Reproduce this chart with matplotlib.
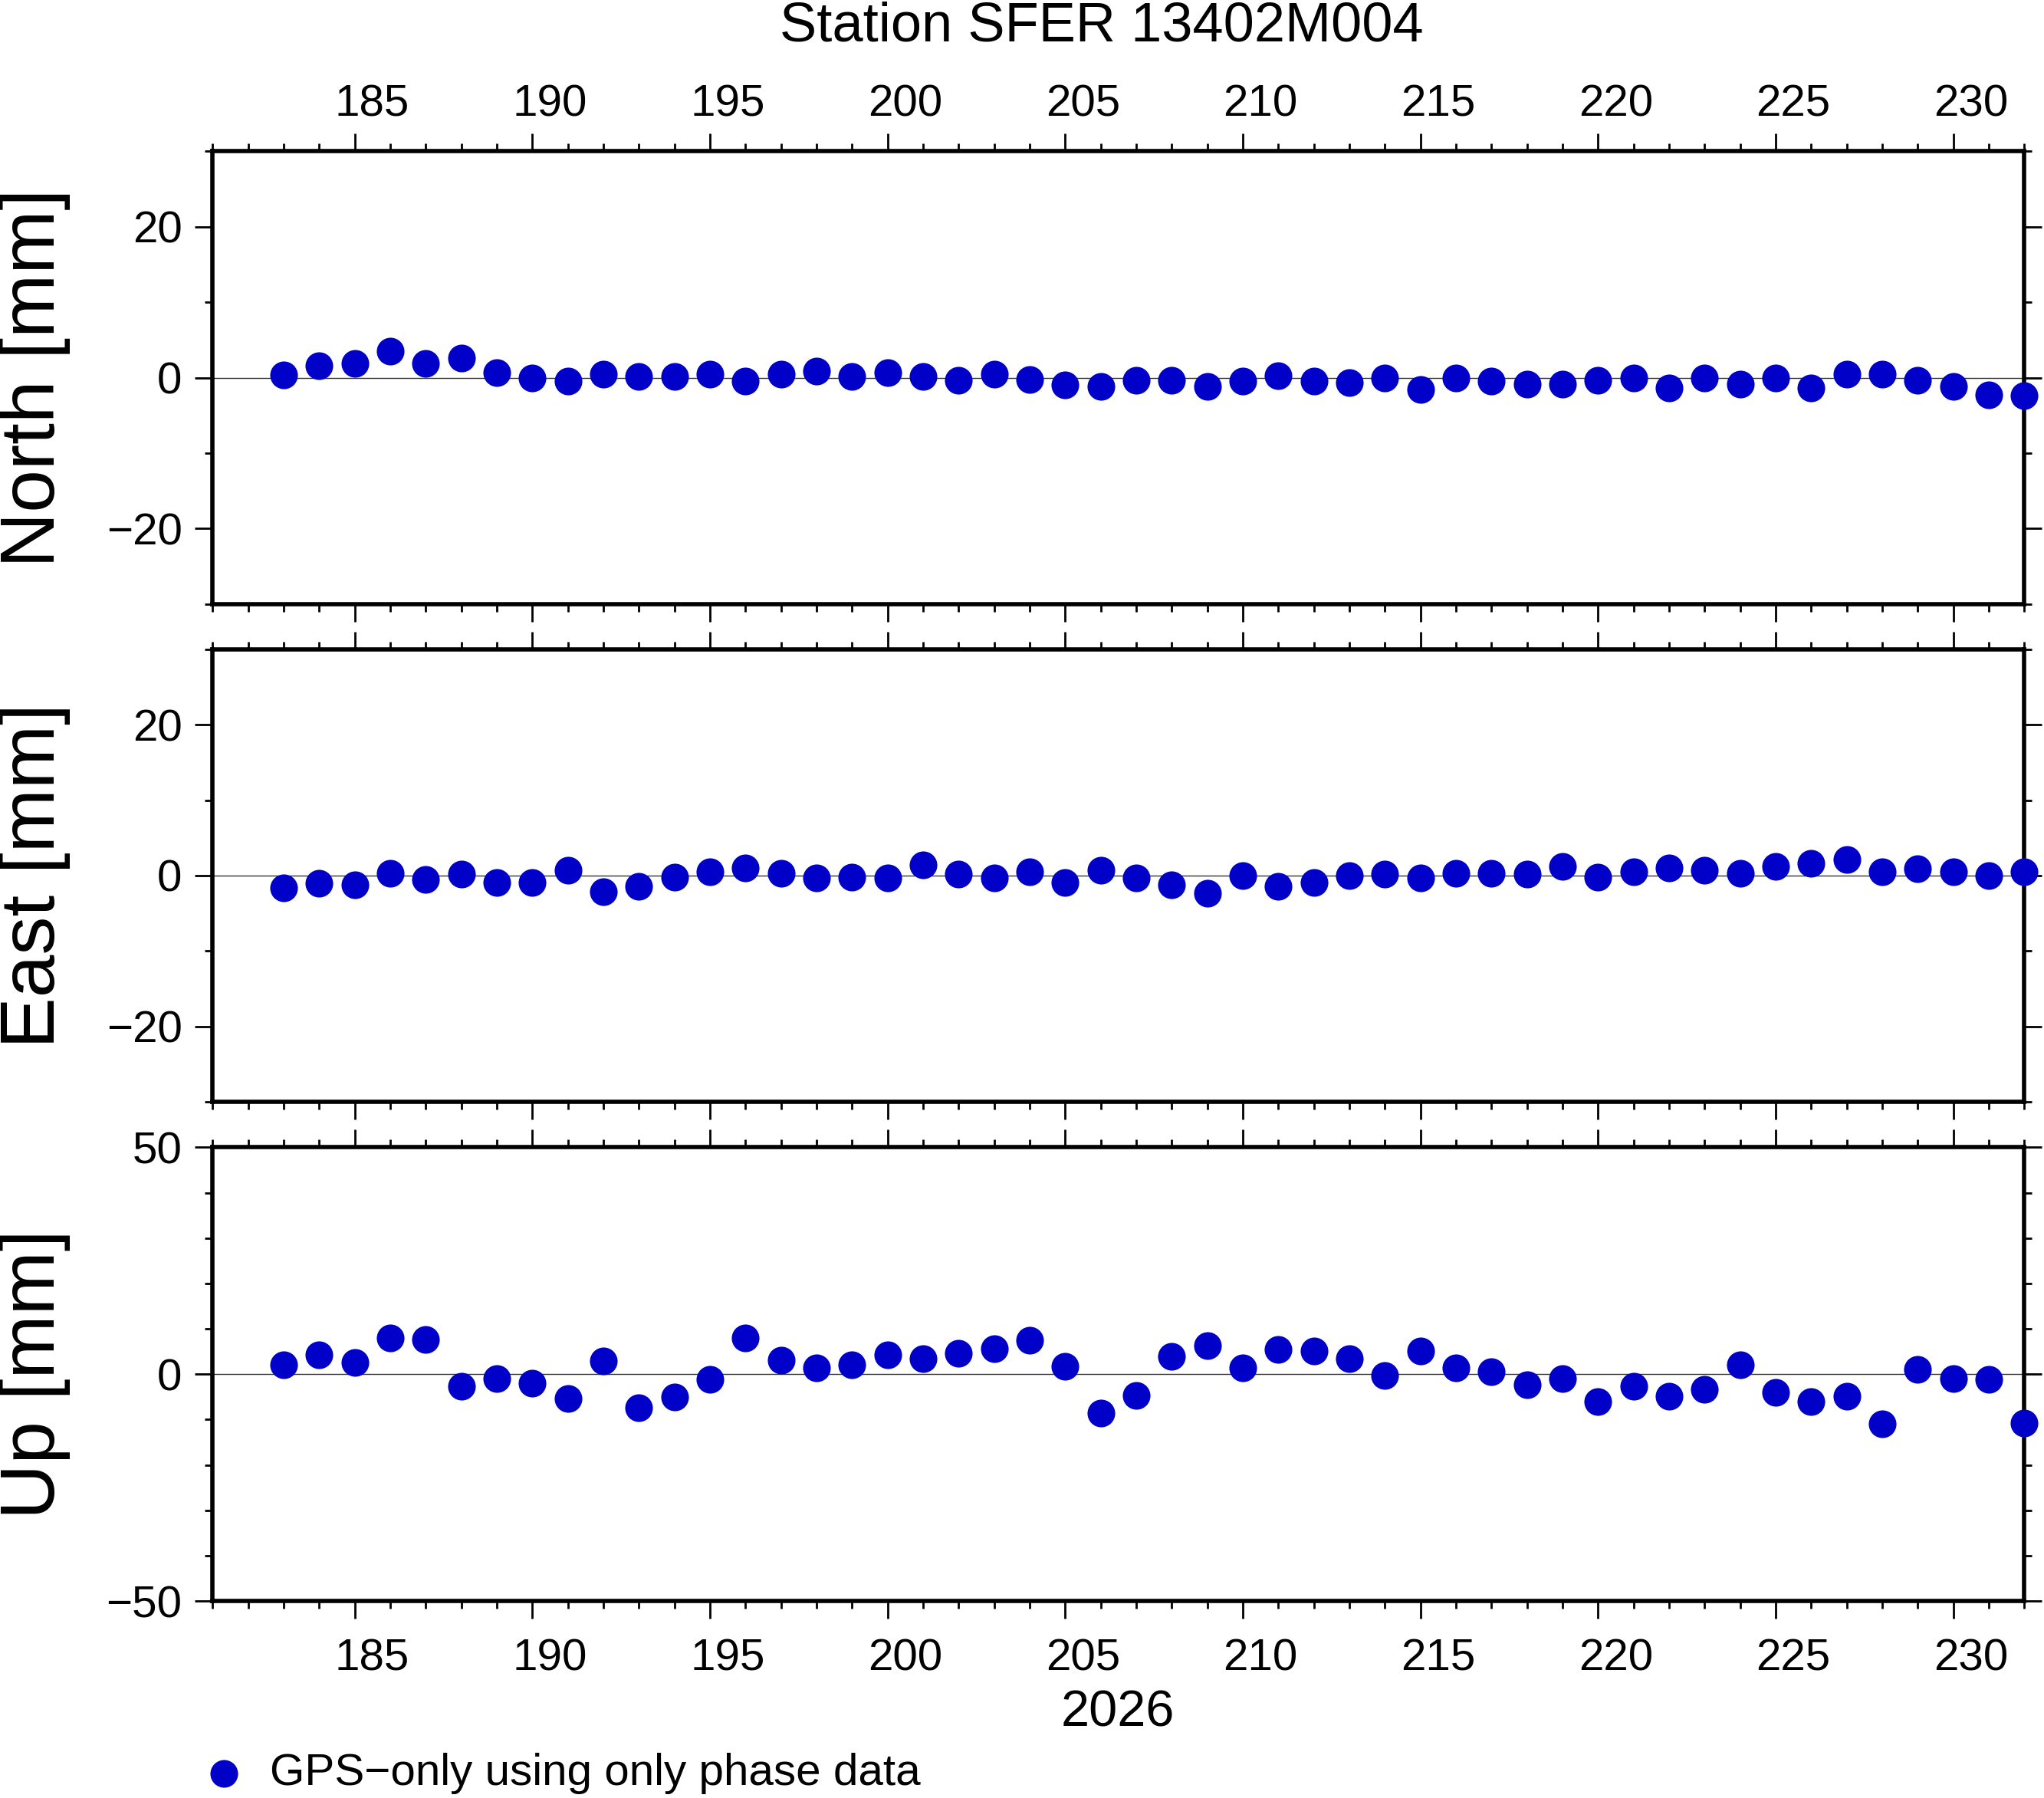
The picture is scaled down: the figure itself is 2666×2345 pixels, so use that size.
import matplotlib
matplotlib.use("Agg")
import matplotlib.pyplot as plt
from matplotlib.transforms import ScaledTranslation
import numpy as np

plt.rcParams['font.family'] = ['Liberation Sans', 'DejaVu Sans']

days = list(range(183, 233))

north = [0.35, 1.6, 1.9, 3.5, 1.9, 2.6, 0.7, 0.0, -0.5, 0.5,
         0.2, 0.2, 0.5, -0.5, 0.5, 0.9, 0.2, 0.7, 0.2, -0.3,
         0.5, -0.2, -1.0, -1.2, -0.3, -0.3, -1.2, -0.5, 0.3, -0.5,
         -0.7, 0.0, -1.6, 0.0, -0.5, -0.9, -0.9, -0.3, 0.0, -1.4,
         0.0, -0.9, 0.0, -1.4, 0.5, 0.5, -0.3, -1.2, -2.3, -2.4]

east = [-1.6, -1.0, -1.2, 0.3, -0.5, 0.2, -0.9, -0.9, 0.7, -2.1,
        -1.4, -0.2, 0.5, 1.0, 0.3, -0.3, -0.2, -0.3, 1.4, 0.2,
        -0.3, 0.5, -0.9, 0.7, -0.3, -1.2, -2.3, 0.0, -1.4, -0.9,
        0.0, 0.2, -0.3, 0.3, 0.3, 0.2, 1.2, -0.2, 0.5, 1.0,
        0.7, 0.3, 1.2, 1.6, 2.1, 0.5, 0.9, 0.5, 0.0, 0.5]

up = [2.0, 4.3, 2.6, 8.0, 7.7, -2.6, -0.9, -2.0, -5.4, 2.9,
      -7.4, -5.1, -1.1, 8.0, 3.1, 1.4, 2.0, 4.3, 3.4, 4.6,
      5.7, 7.4, 1.7, -8.6, -4.6, 4.0, 6.3, 1.4, 5.4, 5.1,
      3.4, -0.3, 5.1, 1.4, 0.6, -2.3, -0.9, -6.0, -2.6, -4.9,
      -3.4, 2.0, -4.0, -6.0, -4.9, -10.9, 1.1, -0.9, -1.1, -10.7]

components = ['North [mm]', 'East [mm]', 'Up [mm]']
ylims = [(-30, 30), (-30, 30), (-50, 50)]
ymajor = [[-20, 0, 20], [-20, 0, 20], [-50, 0, 50]]
xlabels = list(range(185, 231, 5))

W, H = 2666, 2345
DPI = 200
fig = plt.figure(figsize=(W / DPI, H / DPI), dpi=DPI)

left, right = 0.104, 0.9904
boxes = [(0.664, 0.9159), (0.3872, 0.6389), (0.1095, 0.3619)]
dot_color = '#0000c8'
off_bottom = ScaledTranslation(23 / DPI, 0, fig.dpi_scale_trans)
off_top = ScaledTranslation(23 / DPI, -14 / DPI, fig.dpi_scale_trans)

for i, (vals, name, ylim, ymaj, (b, t)) in enumerate(zip([north, east, up], components, ylims, ymajor, boxes)):
    ax = fig.add_axes([left, b, right - left, t - b])
    ax.axhline(0, color='#333333', lw=0.5, zorder=1)
    ax.plot(days, vals, 'o', color=dot_color, ms=13, mew=0, clip_on=False, zorder=5)
    ax.set_xlim(181, 232)
    ax.set_ylim(*ylim)
    for s in ax.spines.values():
        s.set_linewidth(2.0)

    ax.set_xticks(xlabels)
    ax.set_xticks(range(181, 233), minor=True)
    ax.set_yticks(ymaj)
    ax.set_yticks(np.arange(ylim[0], ylim[1] + 1, 10), minor=True)
    ax.set_yticklabels(['\u221220' if v == -20 else ('\u221250' if v == -50 else str(v)) for v in ymaj])

    ax.tick_params(which='both', direction='out', top=True, bottom=True, left=True, right=True,
                   width=1.0, labelsize=21, pad=6)
    ax.tick_params(which='major', length=8.3)
    ax.tick_params(which='minor', length=3.7)
    ax.tick_params(axis='x', which='major', labeltop=(i == 0), labelbottom=(i == 2), pad=9)
    ax.tick_params(axis='y', labelright=False)
    ax.set_xticklabels([str(d) for d in xlabels])

    for tick in ax.xaxis.get_major_ticks():
        tick.label1.set_transform(tick.label1.get_transform() + off_bottom)
        tick.label2.set_transform(tick.label2.get_transform() + off_top)

    fig.text(0.017, (b + t) / 2, name, rotation=90, ha='center', va='center', fontsize=36)

fig.text(0.539, 0.985, 'Station SFER 13402M004', ha='center', va='center', fontsize=26)
fig.text(0.547, 0.047, '2026', ha='center', va='center', fontsize=24)

fig.lines.append(plt.Line2D([0.1097], [0.0138], marker='o', color=dot_color, ms=13, mew=0,
                            transform=fig.transFigure, figure=fig))
fig.text(0.132, 0.0138, 'GPS\u2212only using only phase data', ha='left', va='center', fontsize=21)

fig.savefig('out.png', dpi=DPI)
